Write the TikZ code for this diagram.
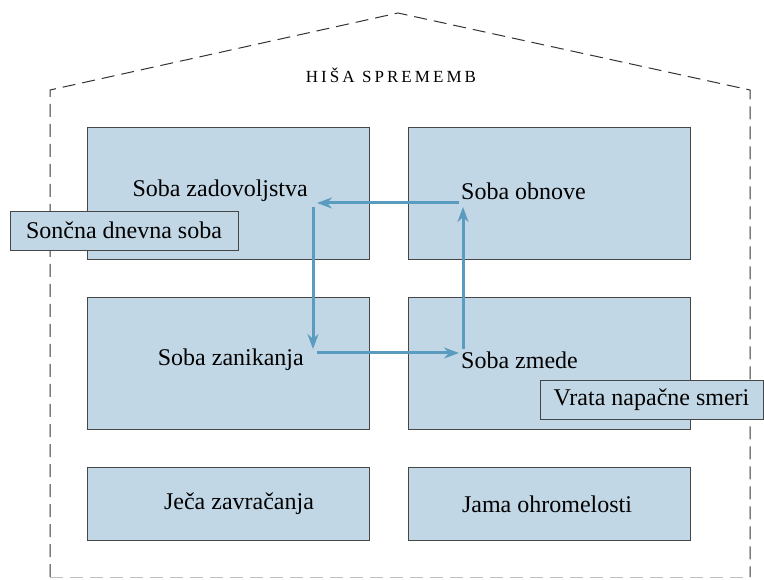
\documentclass[tikz,border=0pt]{standalone}
\usepackage{fontspec}
\setmainfont{Liberation Serif}
\usetikzlibrary{arrows.meta}
\definecolor{roomfill}{RGB}{194,215,229}
\definecolor{roomline}{RGB}{70,70,70}
\definecolor{flowblue}{RGB}{90,156,192}
\begin{document}
\begin{tikzpicture}[x=1pt,y=-1pt,
    room/.style={draw=roomline, fill=roomfill, line width=0.9pt, minimum width=282pt, minimum height=132pt, inner sep=0pt},
    lowroom/.style={room, minimum height=73pt},
    label/.style={font=\fontsize{24}{27}\selectfont, inner sep=0pt},
    tag/.style={draw=roomline, fill=roomfill, line width=0.9pt, font=\fontsize{24}{27}\selectfont, inner sep=0pt, minimum height=39pt},
    wall/.style={line width=1pt, dash pattern=on 13pt off 7pt, black!80},
    flow/.style={draw=flowblue, line width=3pt, -{Stealth[length=15pt,width=11pt]}, shorten <=4pt, shorten >=4pt}]
    \useasboundingbox (0,0) rectangle (764,580);
    % house outline
    \draw[wall] (50,577) -- (50,90) -- (398,13) -- (750,90) -- (750,577);
    \draw[wall, black!25] (50,577) -- (750,577);
    \node[font=\fontsize{17}{19}\selectfont\addfontfeature{LetterSpace=18}] (title) at (391,75) {HIŠA SPREMEMB};
    % rooms
    \node[room] (zadovoljstvo) at (228,193) {};
    \node[room] (obnova) at (549.5,193) {};
    \node[room] (zanikanje) at (228,363) {};
    \node[room] (zmeda) at (549.5,363) {};
    \node[lowroom] (zavracanje) at (228,503.5) {};
    \node[lowroom] (ohromelost) at (549.5,503.5) {};
    % room names
    \node[label, anchor=east] (lzad) at (308,191) {Soba zadovoljstva};
    \node[label, anchor=west] (lobn) at (461,191) {Soba obnove};
    \node[label, anchor=east] (lzan) at (304,360) {Soba zanikanja};
    \node[label, anchor=west] (lzme) at (461,360) {Soba zmede};
    \node[label] (lzav) at (239,504) {Ječa zavračanja};
    \node[label] (lohr) at (547,504) {Jama ohromelosti};
    % cycle
    \coordinate (tl) at (313,203);
    \coordinate (tr) at (463,203);
    \coordinate (bl) at (313,353);
    \coordinate (br) at (463,353);
    \draw[flow] (tr) -- (tl);
    \draw[flow] (tl) -- (bl);
    \draw[flow] (bl) -- (br);
    \draw[flow] (br) -- (tr);
    % tags
    \node[tag, minimum width=228pt] (soncna) at (124,230.5) {Sončna dnevna soba};
    \node[tag, minimum width=223pt] (vrata) at (651.5,400) {Vrata napačne smeri};
\end{tikzpicture}
\end{document}
